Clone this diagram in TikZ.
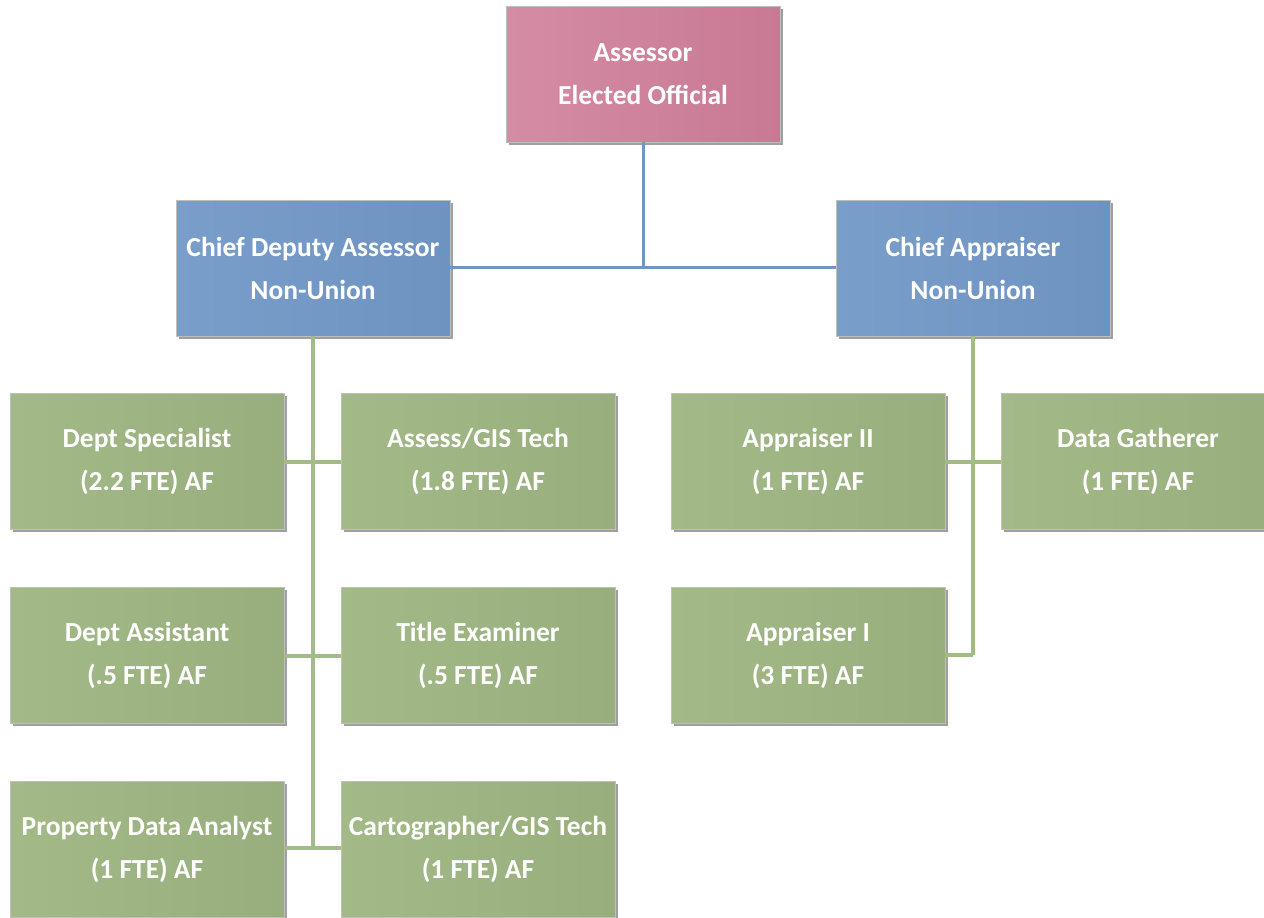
\documentclass[tikz,border=0pt]{standalone}
\usepackage{fontspec}
\setmainfont{Carlito}
\usetikzlibrary{shadows}
\definecolor{pinkL}{HTML}{D48CA4}
\definecolor{pinkR}{HTML}{C97993}
\definecolor{blueL}{HTML}{7A9ECA}
\definecolor{blueR}{HTML}{6D93C1}
\definecolor{greenL}{HTML}{A3BA88}
\definecolor{greenR}{HTML}{98AF7D}
\definecolor{blueline}{HTML}{7095C2}
\definecolor{greenline}{HTML}{A3BB86}
\tikzset{
  box/.style={rectangle, minimum width=274pt, minimum height=136pt, inner sep=0pt,
    align=center, text=white, font=\bfseries\fontsize{27.5}{43}\selectfont,
    draw=black!25, line width=0.6pt,
    drop shadow={shadow xshift=3pt, shadow yshift=-3pt, opacity=0.5, fill=black!75}},
  pinkbox/.style={box, left color=pinkL, right color=pinkR},
  bluebox/.style={box, left color=blueL, right color=blueR},
  greenbox/.style={box, left color=greenL, right color=greenR},
  bline/.style={draw=blueline, line width=3pt},
  gline/.style={draw=greenline, line width=3.4pt},
}
\begin{document}
\begin{tikzpicture}[x=1pt,y=-1pt]
\clip (0,0) rectangle (1264,918);
\fill[white] (0,0) rectangle (1264,918);
\coordinate (aj) at (643,267);
\coordinate (lj1) at (313,462);
\coordinate (lj2) at (313,656);
\coordinate (lj3) at (313,848);
\coordinate (rj1) at (973,462);
\coordinate (rj2) at (973,655);
\node[pinkbox] (ass) at (643,74) {Assessor\\Elected Official};
\node[bluebox] (cda) at (313,268) {Chief Deputy Assessor\\Non-Union};
\node[bluebox] (ca) at (973,268) {Chief Appraiser\\Non-Union};
\node[greenbox] (ds) at (147,461) {Dept Specialist\\(2.2 FTE) AF};
\node[greenbox] (agt) at (478,461) {Assess/GIS Tech\\(1.8 FTE) AF};
\node[greenbox] (da) at (147,655) {Dept Assistant\\(.5 FTE) AF};
\node[greenbox] (te) at (478,655) {Title Examiner\\(.5 FTE) AF};
\node[greenbox] (pda) at (147,849) {Property Data Analyst\\(1 FTE) AF};
\node[greenbox] (cgt) at (478,849) {Cartographer/GIS Tech\\(1 FTE) AF};
\node[greenbox] (a2) at (808,461) {Appraiser II\\(1 FTE) AF};
\node[greenbox] (dg) at (1138,461) {Data Gatherer\\(1 FTE) AF};
\node[greenbox] (a1) at (808,655) {Appraiser I\\(3 FTE) AF};
\draw[bline] (ass.south) -- (aj);
\draw[bline] (cda.east |- aj) -- (ca.west |- aj);
\draw[gline] (cda.south) -- (lj3);
\draw[gline] (ds.east |- lj1) -- (agt.west |- lj1);
\draw[gline] (da.east |- lj2) -- (te.west |- lj2);
\draw[gline] (pda.east |- lj3) -- (cgt.west |- lj3);
\draw[gline] (ca.south) -- (rj2);
\draw[gline] (a2.east |- rj1) -- (dg.west |- rj1);
\draw[gline] (a1.east |- rj2) -- (rj2);
\end{tikzpicture}
\end{document}
